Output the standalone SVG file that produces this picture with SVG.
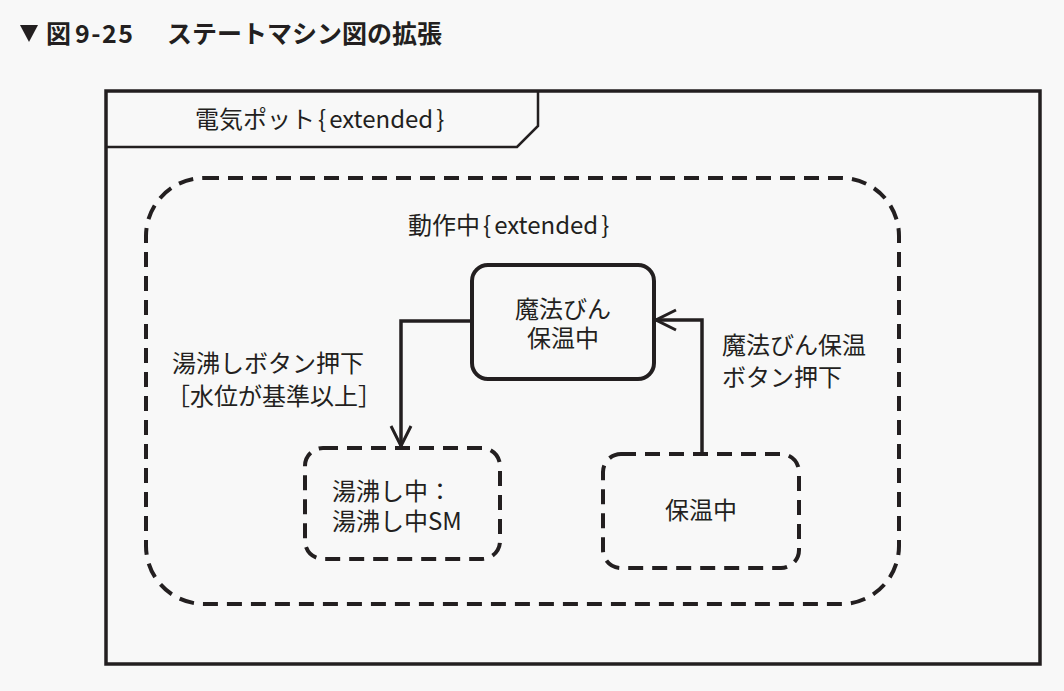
<svg xmlns="http://www.w3.org/2000/svg" width="1064" height="691" viewBox="0 0 1064 691">
  <style>
    .t { font-family: "Noto Sans CJK JP", "Noto Sans", sans-serif; font-size: 24px; fill: #231f20; }
    .title { font-family: "Noto Sans CJK JP", "Noto Sans", sans-serif; font-size: 25px; font-weight: 700; fill: #231f20; }
    .solid { fill: none; stroke: #231f20; stroke-width: 4; }
    .dash { fill: none; stroke: #231f20; stroke-width: 4; stroke-dasharray: 15 9; }
    .line { fill: none; stroke: #231f20; stroke-width: 3.5; stroke-linejoin: miter; }
  </style>
  <defs>
    <marker id="open" viewBox="-2 -2 26 26" refX="21" refY="11" markerWidth="26" markerHeight="26" markerUnits="userSpaceOnUse" orient="auto">
      <path d="M1,1 L21,11 L1,21" fill="none" stroke="#231f20" stroke-width="3"/>
    </marker>
  </defs>
  <rect width="1064" height="691" fill="#f8f8f8"/>

  <!-- heading -->
  <g id="heading">
    <path d="M20,25 L38,25 L29,42 Z" fill="#231f20"/>
    <text class="title" x="46" y="43">図</text>
    <text class="title" x="75" y="43" font-size="27" letter-spacing="1.5">9-25</text>
    <text class="title" x="167" y="43">ステートマシン図の拡張</text>
  </g>

  <!-- state machine frame -->
  <g id="frame">
    <rect x="106" y="91" width="934" height="573" fill="none" stroke="#231f20" stroke-width="3.5"/>
    <path d="M538,91 L538,126 L517,147 L106,147" fill="none" stroke="#231f20" stroke-width="2.5"/>
    <text class="t" x="195" y="128">電気ポット<tspan dx="3">{</tspan><tspan dx="3">extended</tspan><tspan dx="3">}</tspan></text>
  </g>

  <!-- composite state -->
  <g id="running">
    <rect class="dash" x="146" y="178" width="753" height="426" rx="58" ry="58"/>
    <text class="t" x="408" y="234">動作中<tspan dx="3">{</tspan><tspan dx="3">extended</tspan><tspan dx="3">}</tspan></text>
  </g>

  <g id="thermos-keep-warm">
    <rect class="solid" x="472" y="265" width="182" height="114" rx="16" ry="16"/>
    <text class="t" x="563" y="318" text-anchor="middle">魔法びん</text>
    <text class="t" x="563" y="347" text-anchor="middle">保温中</text>
  </g>

  <g id="boiling">
    <rect class="dash" x="305" y="448" width="195" height="111" rx="18" ry="18"/>
    <text class="t" x="332" y="500">湯沸し中：</text>
    <text class="t" x="332" y="530">湯沸し中SM</text>
  </g>

  <g id="keep-warm">
    <rect class="dash" x="603" y="454" width="196" height="114" rx="18" ry="18"/>
    <text class="t" x="701" y="519" text-anchor="middle">保温中</text>
  </g>

  <!-- transitions -->
  <g id="connectors">
    <path class="line" d="M472,321 L401,321 L401,446" marker-end="url(#open)"/>
    <path class="line" d="M702,454 L702,320 L656,320" marker-end="url(#open)"/>
  </g>

  <g id="labels">
    <text class="t" x="172" y="372">湯沸しボタン押下</text>
    <text class="t" x="166" y="405">［水位が基準以上］</text>
    <text class="t" x="722" y="354">魔法びん保温</text>
    <text class="t" x="722" y="386">ボタン押下</text>
  </g>
</svg>
